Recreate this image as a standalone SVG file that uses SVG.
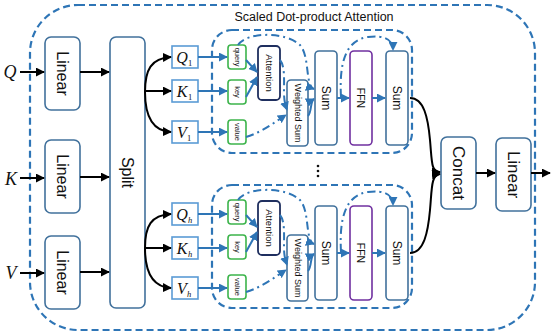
<svg xmlns="http://www.w3.org/2000/svg" width="551" height="334" viewBox="0 0 551 334">
<defs>
<style>
.box{fill:#fff;stroke:#41719c;stroke-width:1.6}
.qkv{fill:#fff;stroke:#5b9bd5;stroke-width:1.6}
.grn{fill:#fff;stroke:#3cb44b;stroke-width:1.6}
.att{fill:#fff;stroke:#1f2f5f;stroke-width:1.8}
.ffn{fill:#fff;stroke:#7030a0;stroke-width:1.6}
.dbox{fill:none;stroke:#2e75b6;stroke-width:2.2;stroke-dasharray:7 4}
.t{font-family:"Liberation Sans","Open Sans",sans-serif;fill:#111;text-anchor:middle;dominant-baseline:central}
.it{font-family:"Liberation Serif","DejaVu Serif",serif;font-style:italic;fill:#111}
.sub{font-family:"Liberation Serif","DejaVu Serif",serif;fill:#111}
.bk{fill:none;stroke:#000;stroke-width:2;marker-end:url(#ab)}
.bl{fill:none;stroke:#2e75b6;stroke-width:2;marker-end:url(#au)}
.dd{fill:none;stroke:#2e75b6;stroke-width:2;stroke-dasharray:8 4 2 4;marker-end:url(#au)}
</style>
<marker id="ab" viewBox="0 0 10 10" refX="9" refY="5" markerWidth="9" markerHeight="9" markerUnits="userSpaceOnUse" orient="auto"><path d="M0,0 L10,5 L0,10 z" fill="#000"/></marker>
<marker id="au" viewBox="0 0 10 10" refX="9" refY="5" markerWidth="9" markerHeight="9" markerUnits="userSpaceOnUse" orient="auto"><path d="M0,0 L10,5 L0,10 z" fill="#2e75b6"/></marker>
</defs>
<rect width="551" height="334" fill="#fff"/>

<g id="outer">
<rect class="dbox" x="30" y="5" width="505" height="325" rx="48"/>
<text class="t" x="314" y="17" font-size="12.5">Scaled Dot-product Attention</text>
</g>

<g id="inputs">
<text class="it" x="10" y="78" font-size="18" text-anchor="middle">Q</text>
<text class="it" x="11" y="185" font-size="18" text-anchor="middle">K</text>
<text class="it" x="11" y="279" font-size="18" text-anchor="middle">V</text>
</g>

<g id="linear1"><rect class="box" x="45" y="37" width="35" height="73" rx="6"/><text class="t" font-size="16" transform="translate(62.5,73.5) rotate(90)">Linear</text></g>
<g id="linear2"><rect class="box" x="45" y="140" width="35" height="73" rx="6"/><text class="t" font-size="16" transform="translate(62.5,176.5) rotate(90)">Linear</text></g>
<g id="linear3"><rect class="box" x="45" y="236" width="35" height="73" rx="6"/><text class="t" font-size="16" transform="translate(62.5,272.5) rotate(90)">Linear</text></g>
<g id="split"><rect class="box" x="110" y="37" width="35" height="271" rx="6"/><text class="t" font-size="16" transform="translate(127.5,172.5) rotate(90)">Split</text></g>
<g id="concat"><rect class="box" x="441" y="137" width="35" height="72" rx="6"/><text class="t" font-size="17" transform="translate(458.5,173) rotate(90)">Concat</text></g>
<g id="linear4"><rect class="box" x="496" y="138" width="35" height="73" rx="6"/><text class="t" font-size="17" transform="translate(513.5,174.5) rotate(90)">Linear</text></g>

<g id="head1">
<rect class="dbox" x="212" y="30" width="200" height="123" rx="20"/>
<g id="q1"><rect class="qkv" x="172" y="46" width="26" height="22"/><text class="it" x="182" y="63" font-size="16" text-anchor="middle">Q</text><text class="sub" x="188" y="66" font-size="8.5">1</text></g>
<g id="k1"><rect class="qkv" x="172" y="80" width="26" height="22"/><text class="it" x="182" y="97" font-size="16" text-anchor="middle">K</text><text class="sub" x="188" y="100" font-size="8.5">1</text></g>
<g id="v1"><rect class="qkv" x="172" y="121" width="26" height="22"/><text class="it" x="182" y="138" font-size="16" text-anchor="middle">V</text><text class="sub" x="187" y="141" font-size="8.5">1</text></g>
<g id="query1"><rect class="grn" x="228" y="45" width="18" height="24" rx="3"/><text class="t" font-size="7.5" transform="translate(237,57) rotate(90)">query</text></g>
<g id="key1"><rect class="grn" x="228" y="80" width="18" height="24" rx="3"/><text class="t" font-size="7.5" transform="translate(237,92) rotate(90)">key</text></g>
<g id="value1"><rect class="grn" x="228" y="120" width="18" height="24" rx="3"/><text class="t" font-size="7.5" transform="translate(237,132) rotate(90)">value</text></g>
<g id="attention1"><rect class="att" x="258" y="46" width="22" height="54" rx="4"/><text class="t" font-size="9.5" transform="translate(269,73) rotate(90)">Attention</text></g>
<g id="wsum1"><rect class="box" x="287" y="80" width="21" height="66" rx="4"/><text class="t" font-size="9" transform="translate(297.5,113) rotate(90)">Weighted Sum</text></g>
<g id="sum1a"><rect class="box" x="315" y="51" width="22" height="94" rx="4"/><text class="t" font-size="12" transform="translate(326,98) rotate(90)">Sum</text></g>
<g id="ffn1"><rect class="ffn" x="350" y="51" width="22" height="94" rx="4"/><text class="t" font-size="10.5" transform="translate(361,98) rotate(90)">FFN</text></g>
<g id="sum1b"><rect class="box" x="386" y="51" width="22" height="94" rx="4"/><text class="t" font-size="12" transform="translate(397,98) rotate(90)">Sum</text></g>
</g>

<g id="headh">
<rect class="dbox" x="212" y="185" width="200" height="123" rx="20"/>
<g id="qh"><rect class="qkv" x="172" y="203" width="26" height="22"/><text class="it" x="182" y="220" font-size="16" text-anchor="middle">Q</text><text class="it" x="188" y="223" font-size="8.5">h</text></g>
<g id="kh"><rect class="qkv" x="172" y="237" width="26" height="22"/><text class="it" x="182" y="254" font-size="16" text-anchor="middle">K</text><text class="it" x="188" y="257" font-size="8.5">h</text></g>
<g id="vh"><rect class="qkv" x="172" y="277" width="26" height="22"/><text class="it" x="182" y="294" font-size="16" text-anchor="middle">V</text><text class="it" x="187" y="297" font-size="8.5">h</text></g>
<g id="queryh"><rect class="grn" x="228" y="200" width="18" height="24" rx="3"/><text class="t" font-size="7.5" transform="translate(237,212) rotate(90)">query</text></g>
<g id="keyh"><rect class="grn" x="228" y="235" width="18" height="24" rx="3"/><text class="t" font-size="7.5" transform="translate(237,247) rotate(90)">key</text></g>
<g id="valueh"><rect class="grn" x="228" y="275" width="18" height="24" rx="3"/><text class="t" font-size="7.5" transform="translate(237,287) rotate(90)">value</text></g>
<g id="attentionh"><rect class="att" x="258" y="201" width="22" height="54" rx="4"/><text class="t" font-size="9.5" transform="translate(269,228) rotate(90)">Attention</text></g>
<g id="wsumh"><rect class="box" x="287" y="235" width="21" height="66" rx="4"/><text class="t" font-size="9" transform="translate(297.5,268) rotate(90)">Weighted Sum</text></g>
<g id="sumha"><rect class="box" x="315" y="206" width="22" height="94" rx="4"/><text class="t" font-size="12" transform="translate(326,253) rotate(90)">Sum</text></g>
<g id="ffnh"><rect class="ffn" x="350" y="206" width="22" height="94" rx="4"/><text class="t" font-size="10.5" transform="translate(361,253) rotate(90)">FFN</text></g>
<g id="sumhb"><rect class="box" x="386" y="206" width="22" height="94" rx="4"/><text class="t" font-size="12" transform="translate(397,253) rotate(90)">Sum</text></g>
</g>

<g id="dots" fill="#111">
<circle cx="318" cy="166" r="1.3"/><circle cx="318" cy="171" r="1.3"/><circle cx="318" cy="176" r="1.3"/>
</g>

<g id="connectors">
<path class="bk" d="M20,72 H44"/>
<path class="bk" d="M20,178 H44"/>
<path class="bk" d="M20,273 H44"/>
<path class="bk" d="M80,72 H109"/>
<path class="bk" d="M80,177 H109"/>
<path class="bk" d="M80,272 H109"/>
<path class="bk" d="M145,92 C145,70 151,58 171,57"/>
<path class="bk" d="M145,91 H171"/>
<path class="bk" d="M145,92 C145,114 151,131 171,132"/>
<path class="bk" d="M145,248 C145,226 151,215 171,214"/>
<path class="bk" d="M145,248 H171"/>
<path class="bk" d="M145,248 C145,270 151,287 171,288"/>
<path class="bk" d="M410,98 C424,98 428,118 430,140 C432,162 431,172 440,172"/>
<path class="bk" d="M410,253 C424,253 428,232 430,210 C432,188 431,175 440,174"/>
<path class="bk" d="M476,173 H495"/>
<path class="bk" d="M531,173 H550"/>

<g id="conn1">
<path class="bl" d="M198,57 H227"/>
<path class="bl" d="M198,91 H227"/>
<path class="bl" d="M198,132 H227"/>
<path class="bl" d="M246,60 L257,72"/>
<path class="bl" d="M246,97 L257,77"/>
<path class="dd" d="M280,60 C285,66 284,80 284,92 C284,100 285,104 287,110"/>
<path class="dd" d="M246,137 C262,132 272,124 286,115"/>
<path class="dd" d="M238,45 C246,32 285,31 300,45 C310,56 305,86 314,89"/>
<path class="bl" d="M308,116 C312,112 310,101 314,99"/>
<path class="bl" d="M337,98 H349"/>
<path class="dd" d="M341,97 C339,62 346,40 368,37 C384,35 393,39 393,50"/>
<path class="bl" d="M372,98 H385"/>
</g>
<g id="connh">
<path class="bl" d="M198,214 H227"/>
<path class="bl" d="M198,248 H227"/>
<path class="bl" d="M198,288 H227"/>
<path class="bl" d="M246,215 L257,227"/>
<path class="bl" d="M246,252 L257,232"/>
<path class="dd" d="M280,215 C285,221 284,235 284,247 C284,255 285,259 287,265"/>
<path class="dd" d="M246,292 C262,287 272,279 286,270"/>
<path class="dd" d="M238,200 C246,187 285,186 300,200 C310,211 305,241 314,244"/>
<path class="bl" d="M308,271 C312,267 310,256 314,254"/>
<path class="bl" d="M337,253 H349"/>
<path class="dd" d="M341,252 C339,217 346,195 368,192 C384,190 393,194 393,205"/>
<path class="bl" d="M372,253 H385"/>
</g>
</g>
</svg>
